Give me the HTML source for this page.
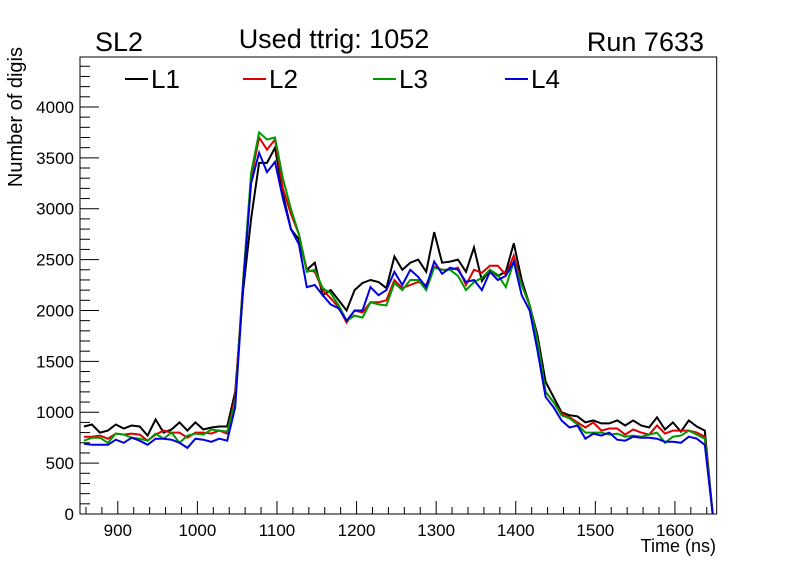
<!DOCTYPE html>
<html><head><meta charset="utf-8"><style>
html,body{margin:0;padding:0;background:#fff;}
svg{display:block;font-family:"Liberation Sans",Arial,sans-serif;}
</style></head><body>
<svg id="chart" width="796" height="572" viewBox="0 0 796 572">
<rect width="796" height="572" fill="#fff"/>
<text x="95" y="51" font-size="27">SL2</text>
<text x="334" y="48" font-size="27" text-anchor="middle">Used ttrig: 1052</text>
<text x="704" y="51" font-size="27" text-anchor="end">Run 7633</text>
<g id="axes"></g>
<g id="series"></g>
<g id="legend"></g>
<text x="716" y="552" font-size="18" text-anchor="end">Time (ns)</text>
<text x="22" y="47" font-size="20" text-anchor="end" transform="rotate(-90 22 47)">Number of digis</text>
</svg>
<script>
const binStart = 857.5;
const binWidth = 10;
const xTicks = [900,1000,1100,1200,1300,1400,1500,1600];
const yTicks = [0,500,1000,1500,2000,2500,3000,3500,4000];
const seriesNames = ["L1","L2","L3","L4"];
const seriesColors = ["#000000","#dd0000","#009900","#0000dd"];
const l1 = [860,880,800,820,880,840,870,860,770,930,800,830,900,820,900,830,850,860,860,1200,2200,2900,3450,3450,3600,3150,2800,2700,2400,2470,2150,2200,2100,2000,2200,2270,2300,2280,2220,2530,2400,2470,2500,2380,2770,2470,2480,2500,2380,2620,2290,2400,2340,2380,2660,2300,2050,1750,1300,1150,1000,970,960,900,920,890,890,920,870,920,870,850,950,830,900,810,920,860,820,0];
const l2 = [760,760,770,740,790,780,790,780,720,780,820,800,800,750,800,800,790,820,790,1150,2300,3300,3700,3580,3680,3200,2950,2750,2400,2380,2200,2120,2030,1880,2000,1980,2080,2080,2100,2300,2220,2250,2280,2250,2430,2400,2400,2420,2250,2400,2370,2440,2440,2350,2540,2250,2050,1700,1200,1100,990,950,900,850,900,820,840,840,780,830,800,780,870,790,820,820,820,800,760,0];
const l3 = [720,750,750,700,790,780,750,740,720,790,740,800,700,770,790,780,830,820,810,1100,2300,3350,3750,3680,3700,3300,3000,2750,2380,2400,2220,2170,2050,1900,1950,1930,2080,2060,2050,2270,2200,2300,2300,2200,2420,2400,2400,2340,2200,2280,2320,2400,2350,2230,2480,2250,2050,1700,1200,1100,970,940,880,800,800,800,780,790,760,770,760,780,800,700,760,770,820,780,740,0];
const l4 = [690,680,680,680,730,700,750,720,680,740,740,730,700,650,740,730,710,740,720,1050,2250,3250,3550,3360,3460,3100,2800,2650,2230,2250,2150,2060,2020,1900,2000,2000,2230,2150,2200,2380,2250,2400,2330,2230,2480,2360,2420,2400,2280,2300,2200,2380,2300,2340,2480,2150,2000,1600,1150,1050,920,850,870,740,790,770,800,730,720,760,750,750,740,710,710,700,760,740,680,0];
const allSeries = [l1,l2,l3,l4];

const NS="http://www.w3.org/2000/svg";
const X0=80,X1=716.7,Y0=514,Y1=57;
const xMin=852.5,xMax=1652.5,yMin=0,yMax=4491;
function xs(v){return X0+(v-xMin)/(xMax-xMin)*(X1-X0);}
function ys(v){return Y0-(v-yMin)/(yMax-yMin)*(Y0-Y1);}
function mk(tag,attrs,parent){const e=document.createElementNS(NS,tag);for(const k in attrs)e.setAttribute(k,attrs[k]);parent.appendChild(e);return e;}

const axes=document.getElementById('axes');
const frame=mk('rect',{x:X0,y:Y1,width:X1-X0,height:Y0-Y1,fill:'none',stroke:'#000','stroke-width':1},axes);


for(let v=860;v<=1650;v+=20){
  const major=xTicks.includes(v);
  const t=mk('line',{x1:xs(v),x2:xs(v),y1:Y0,y2:Y0-(major?13:7),stroke:'#000','stroke-width':1},axes);
  
  
}
xTicks.forEach(v=>{
  const t=mk('text',{x:xs(v),y:Y0+22,'font-size':17,'text-anchor':'middle'},axes);
  t.textContent=v;
  
  
});
for(let v=0;v<=4400;v+=100){
  const major=v%500===0;
  const t=mk('line',{x1:X0,x2:X0+(major?19:10),y1:ys(v),y2:ys(v),stroke:'#000','stroke-width':1},axes);
  
  
}
yTicks.forEach(v=>{
  const t=mk('text',{x:X0-6,y:ys(v)+6,'font-size':17,'text-anchor':'end'},axes);
  t.textContent=v;
  
  
});

const sg=document.getElementById('series');
allSeries.forEach((arr,si)=>{
  const pts=arr.map((v,i)=>xs(binStart+i*binWidth).toFixed(1)+','+ys(v).toFixed(1)).join(' ');
  const p=mk('polyline',{points:pts,fill:'none',stroke:seriesColors[si],'stroke-width':2,'stroke-linejoin':'miter'},sg);
  
  
});

const lg=document.getElementById('legend');
const legX=[125,243,373,505];
seriesNames.forEach((n,i)=>{
  const g=mk('g',{},lg);
  
  
  mk('line',{x1:legX[i],x2:legX[i]+23,y1:79,y2:79,stroke:seriesColors[i],'stroke-width':2},g);
  const t=mk('text',{x:legX[i]+26,y:88,'font-size':26},g);
  t.textContent=n;
});
</script>
</body></html>
